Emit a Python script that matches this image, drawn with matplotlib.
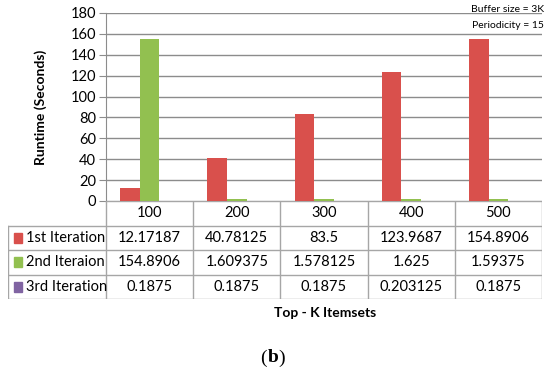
import matplotlib.pyplot as plt
from matplotlib.patches import Rectangle

# data
top_k = ['100', '200', '300', '400', '500']
series_names = ['1st Iteration', '2nd Iteraion', '3rd Iteration']
iter1 = [12.17187, 40.78125, 83.5, 123.9687, 154.8906]
iter2 = [154.8906, 1.609375, 1.578125, 1.625, 1.59375]
iter3 = [0.1875, 0.1875, 0.1875, 0.203125, 0.1875]
iter1_txt = ['12.17187', '40.78125', '83.5', '123.9687', '154.8906']
iter2_txt = ['154.8906', '1.609375', '1.578125', '1.625', '1.59375']
iter3_txt = ['0.1875', '0.1875', '0.1875', '0.203125', '0.1875']
y_ticks = [0, 20, 40, 60, 80, 100, 120, 140, 160, 180]

colors = ['#D9504C', '#92C050', '#8064A2']
grid_c = '#8C8C8C'
tab_c = '#A6A6A6'

plt.rcParams['font.family'] = ['Lato', 'DejaVu Sans']

W, H = 550, 368
fig = plt.figure(figsize=(W / 100, H / 100), dpi=100)

# main plot area in pixel terms
x0, x1 = 106, 542
y_top, y_zero = 13, 201
ax = fig.add_axes([x0 / W, 1 - y_zero / H, (x1 - x0) / W, (y_zero - y_top) / H])

n = len(top_k)
bw = 0.225
for i, (vals, c) in enumerate(zip([iter1, iter2, iter3], colors)):
    ax.bar([k + (i - 1) * bw for k in range(n)], vals, width=bw, color=c, zorder=3)

ax.set_xlim(-0.5, n - 0.5)
ax.set_ylim(0, 180)
ax.set_yticks(y_ticks)
ax.set_xticks([])
ax.tick_params(axis='y', length=5, color=grid_c, labelsize=10.5, pad=2)
ax.grid(axis='y', color=grid_c, linewidth=1, zorder=0)
for s in ['top', 'right', 'bottom']:
    ax.spines[s].set_visible(False)
ax.spines['left'].set_color(grid_c)
ax.set_ylabel('Runtime (Seconds)', fontsize=10, fontweight='bold', labelpad=17)

fig.text(544 / W, 1 - 10 / H, 'Buffer size = 3K', fontsize=7.5, ha='right', va='center')
fig.text(544 / W, 1 - 25 / H, 'Periodicity = 15', fontsize=7.5, ha='right', va='center')

# data table below the chart
t_left, t_top, t_bot = 8, 201, 299
col_w = (x1 - x0) / n
lab_w = (x0 - t_left) / col_w
tax = fig.add_axes([t_left / W, 1 - t_bot / H, (x1 - t_left) / W, (t_bot - t_top) / H])
tax.set_xlim(-0.5 - lab_w, n - 0.5)
tax.set_ylim(4, 0)
tax.axis('off')

lw = 1
# horizontal lines
tax.plot([-0.5, n - 0.5], [0, 0], color=tab_c, lw=lw)
for r in range(1, 5):
    tax.plot([-0.5 - lab_w, n - 0.5], [r, r], color=tab_c, lw=lw)
# vertical lines
tax.plot([-0.5 - lab_w, -0.5 - lab_w], [1, 4], color=tab_c, lw=lw)
for k in range(n + 1):
    tax.plot([k - 0.5, k - 0.5], [0, 4], color=tab_c, lw=lw)

for k in range(n):
    tax.text(k, 0.5, top_k[k], ha='center', va='center', fontsize=10.5)
rows = [iter1_txt, iter2_txt, iter3_txt]
for r, (name, txts, c) in enumerate(zip(series_names, rows, colors)):
    yc = r + 1.5
    tax.add_patch(Rectangle((-0.5 - lab_w + 0.07, yc - 0.2), 0.09, 0.4, color=c, clip_on=False))
    tax.text(-0.5 - lab_w + 0.21, yc, name, ha='left', va='center', fontsize=10.5)
    for k in range(n):
        tax.text(k, yc, txts[k], ha='center', va='center', fontsize=10.5)

fig.text(325 / W, 1 - 313 / H, 'Top - K Itemsets', fontsize=10, fontweight='bold',
         ha='center', va='center')
fig.text(267 / W, 1 - 358 / H, '(', fontsize=14, ha='right', va='center',
         family='Liberation Serif')
fig.text(267.5 / W, 1 - 358 / H, 'b', fontsize=14, ha='left', va='center',
         family='Liberation Serif', fontweight='bold')
fig.text(278 / W, 1 - 358 / H, ')', fontsize=14, ha='left', va='center',
         family='Liberation Serif')

fig.savefig('out.png', dpi=100)
